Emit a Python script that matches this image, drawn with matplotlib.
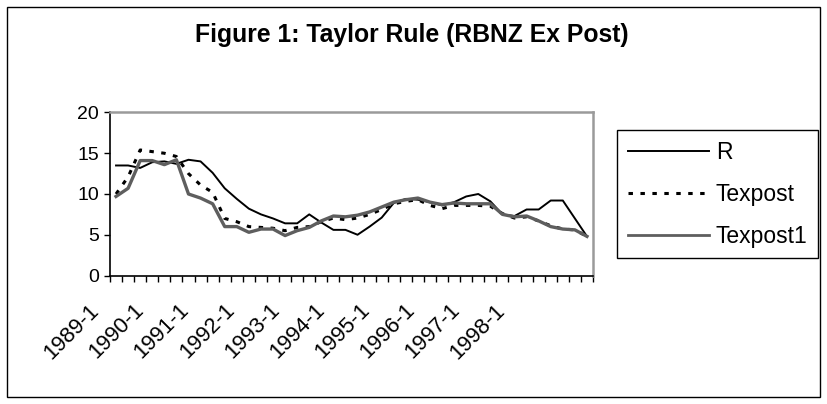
import matplotlib
matplotlib.use("Agg")
import matplotlib.pyplot as plt
import matplotlib.transforms as mtransforms
import numpy as np
from matplotlib.patches import Rectangle
from matplotlib.lines import Line2D

# ---------------- data ----------------
quarters = [f"{y}-{q}" for y in range(1989, 1999) for q in range(1, 5)]
tick_labels = ["1989-1", "1990-1", "1991-1", "1992-1", "1993-1",
               "1994-1", "1995-1", "1996-1", "1997-1", "1998-1"]

R = [13.5, 13.5, 13.2, 13.9, 14.0, 13.7, 14.2, 14.0, 12.6, 10.7,
     9.4, 8.2, 7.5, 7.0, 6.4, 6.4, 7.5, 6.5, 5.6, 5.6,
     5.0, 6.0, 7.1, 8.9, 9.4, 9.3, 9.0, 8.6, 9.0, 9.7,
     10.0, 9.1, 7.5, 7.3, 8.1, 8.1, 9.2, 9.2, 7.0, 4.8]

Texpost = [10.0, 12.1, 15.4, 15.2, 15.0, 14.6, 12.5, 11.1, 10.2, 7.0,
           6.6, 6.0, 5.9, 5.8, 5.5, 5.9, 6.0, 6.6, 7.05, 6.85,
           7.05, 7.5, 8.1, 8.8, 9.1, 9.3, 8.6, 8.2, 8.6, 8.6,
           8.6, 8.5, 7.6, 7.05, 7.2, 6.7, 6.1, 5.7, 5.6, 4.8]

Texpost1 = [9.7, 10.7, 14.1, 14.1, 13.6, 14.2, 10.0, 9.5, 8.8, 6.0,
            6.0, 5.3, 5.7, 5.7, 4.9, 5.5, 5.9, 6.7, 7.3, 7.2,
            7.4, 7.8, 8.4, 9.0, 9.3, 9.5, 9.0, 8.7, 8.9, 8.8,
            8.8, 8.8, 7.5, 7.2, 7.3, 6.7, 6.0, 5.7, 5.6, 4.8]

# ---------------- figure ----------------
plt.rcParams["font.family"] = ["Liberation Sans", "DejaVu Sans"]
plt.rcParams["lines.scale_dashes"] = False

W, H = 828, 404
fig = plt.figure(figsize=(W / 100, H / 100), dpi=100)
fig.patch.set_facecolor("white")

# outer chart border
fig.patches.append(Rectangle((7 / W, 1 - 397 / H), (820 - 7) / W, (397 - 7) / H,
                             transform=fig.transFigure, fill=False,
                             edgecolor="black", linewidth=1.0))

ax = fig.add_axes([110 / W, 1 - 275.5 / H, 483 / W, 163 / H])
x = np.arange(len(quarters))

ax.plot(x, R, color="black", lw=1.4, label="R")
ax.plot(x, Texpost, color="black", lw=2.2, linestyle=(0, (3.2, 5.4)),
        dash_capstyle="butt", label="Texpost")
ax.plot(x, Texpost1, color="#5e5e5e", lw=2.4, label="Texpost1")

ax.set_ylim(0, 20)
ax.set_yticks([0, 5, 10, 15, 20])
ax.tick_params(axis="y", direction="out", length=4, width=1, pad=4,
               labelsize=14, colors="black")

# category boundary ticks, no tick labels on the axis itself
ax.set_xticks(np.arange(-0.5, len(quarters)))
ax.set_xticklabels([])
ax.tick_params(axis="x", direction="out", length=4.5, width=1)
ax.set_xlim(-0.5, len(quarters) - 0.5)

# Excel-style rotated category labels (every 4th quarter)
step = len(quarters) / len(tick_labels) * 0.934
label_pos = -2.27 + np.arange(len(tick_labels)) * step
trans = mtransforms.offset_copy(
    mtransforms.blended_transform_factory(ax.transData, ax.transAxes),
    fig=fig, x=0, y=-17.5, units="points")
for p, lab in zip(label_pos, tick_labels):
    ax.text(p, 0, lab, transform=trans, rotation=45, ha="right", va="top",
            rotation_mode="anchor", fontsize=15.8, clip_on=False)

for s in ["left", "bottom"]:
    ax.spines[s].set_color("black")
    ax.spines[s].set_linewidth(1.2)
for s in ["top", "right"]:
    ax.spines[s].set_color("#9a9a9a")
    ax.spines[s].set_linewidth(1.8)

fig.text(412 / W, 1 - 35 / H, "Figure 1: Taylor Rule (RBNZ Ex Post)",
         ha="center", va="center", fontsize=17.8, fontweight="bold")

handles = [Line2D([], [], color="black", lw=1.4),
           Line2D([], [], color="black", lw=2.2, linestyle=(0, (3.2, 5.4))),
           Line2D([], [], color="#5e5e5e", lw=2.0)]
leg = ax.legend(handles, ["R", "Texpost", "Texpost1"],
                loc="upper left",
                bbox_to_anchor=(617 / W, 1 - 258 / H, (818 - 617) / W, (258 - 130) / H),
                bbox_transform=fig.transFigure, mode="expand",
                frameon=True, fancybox=False, shadow=False,
                edgecolor="black", framealpha=1, fontsize=16.5,
                handlelength=3.55, handletextpad=0.3, borderpad=0.46,
                labelspacing=0.83, borderaxespad=0)
leg.get_frame().set_linewidth(1.0)

fig.savefig("out.png", dpi=100, facecolor="white")
